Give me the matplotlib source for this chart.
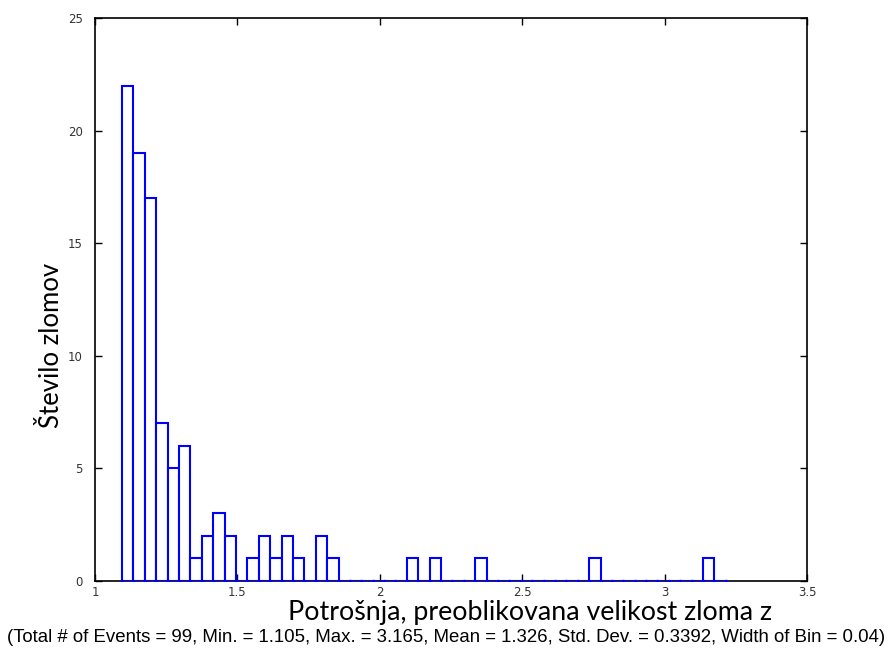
import matplotlib
matplotlib.use('Agg')
import matplotlib.pyplot as plt
import numpy as np

# histogram data
bin_start = 1.095
bin_width = 0.04
counts = [22, 19, 17, 7, 5, 6, 1, 2, 3, 2,
          0, 1, 2, 1, 2, 1, 0, 2, 1, 0,
          0, 0, 0, 0, 0, 1, 0, 1, 0, 0,
          0, 1, 0, 0, 0, 0, 0, 0, 0, 0,
          0, 1, 0, 0, 0, 0, 0, 0, 0, 0,
          0, 1, 0]
xticks = [1, 1.5, 2, 2.5, 3, 3.5]
yticks = [0, 5, 10, 15, 20, 25]

edges = bin_start + bin_width * np.arange(len(counts))

fig = plt.figure(figsize=(8.93, 6.53), dpi=100)
ax = fig.add_axes([0.1064, 0.1103, 0.7973, 0.862])

ax.bar(edges, counts, width=bin_width, align='edge', color='white',
       edgecolor='#0000ff', linewidth=1.5, zorder=3)
# zero bins show up as dots along the baseline
ax.plot(np.append(edges, edges[-1] + bin_width), np.zeros(len(counts) + 1),
        linestyle='none', marker='.', markersize=3, color='#0000ff', zorder=4)

ax.set_xlim(1, 3.5)
ax.set_ylim(0, 25)
ax.set_xticks(xticks)
ax.set_xticklabels(['1', '1.5', '2', '2.5', '3', '3.5'])
ax.set_yticks(yticks)
ax.tick_params(direction='in', top=True, right=True, length=5, width=1,
               labelsize=8.5, labelcolor='#333333')
ax.tick_params(axis='y', pad=9)
for s in ax.spines.values():
    s.set_linewidth(1.2)

ax.set_ylabel('Število zlomov', family=['Lato', 'DejaVu Sans'], fontsize=18.5)
ax.yaxis.set_label_coords(-0.044, 0.419)
fig.text(0.593, 0.062, 'Potrošnja, preoblikovana velikost zloma z',
         family=['Lato', 'DejaVu Sans'], fontsize=19.3, ha='center', va='center')
fig.text(0.5, 0.024,
         '(Total # of Events = 99, Min. = 1.105, Max. = 3.165, Mean = 1.326, '
         'Std. Dev. = 0.3392, Width of Bin = 0.04)',
         family=['Liberation Sans', 'DejaVu Sans'], fontsize=13.4,
         ha='center', va='center')

fig.savefig('out.png', dpi=100)
